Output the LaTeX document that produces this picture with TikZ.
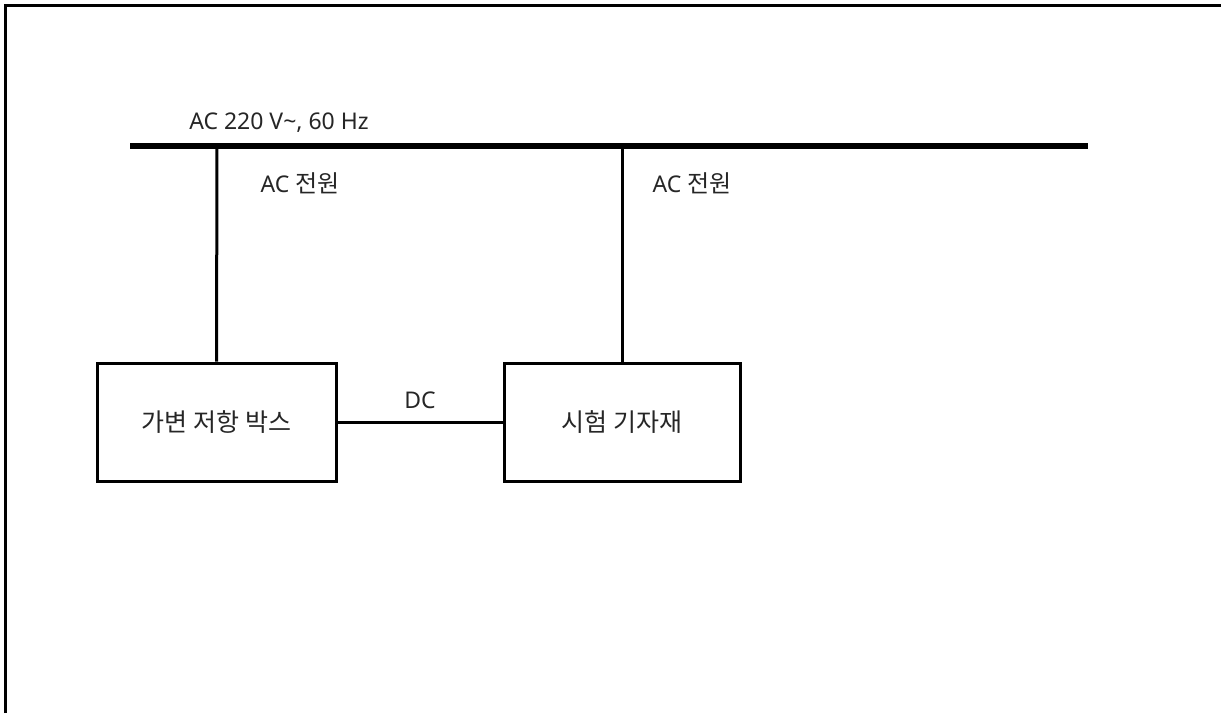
\documentclass[tikz,border=0pt]{standalone}
\usepackage{fontspec}
\setmainfont{Noto Sans}
\newfontfamily\kr{Noto Sans CJK KR}
\begin{document}
\begin{tikzpicture}[x=1pt,y=-1pt,
  box/.style={draw,line width=3pt,minimum width=239pt,minimum height=118pt,inner sep=0pt,text=black!85,font=\kr\fontsize{25}{29}\selectfont},
  lbl/.style={font=\fontsize{23}{27}\selectfont,text=black!85,inner sep=0pt},
  wire/.style={line width=3pt}]
\useasboundingbox (0,0) rectangle (1221,713);
\draw[line width=3pt] (5,713) -- (5,5) -- (1221,5);
\coordinate (busL) at (130,146);
\coordinate (busR) at (1088,146);
\coordinate (tap1) at (217,146);
\coordinate (tap2) at (622,146);
\draw[line width=6.5pt] (busL) -- (busR);
\node[box] (b1) at (216.5,422) {가변 저항 박스};
\node[box,minimum width=236pt] (b2) at (622,422) {시험 기자재};
\draw[wire] (tap1) -- (b1.north);
\draw[wire] (tap2) -- (b2.north);
\draw[wire] (b1.east) -- (b2.west);
\node[lbl] (bus) at (279,123) {AC 220 V\textasciitilde, 60 Hz};
\node[lbl] (ac1) at (300,183) {AC {\kr\fontsize{24}{28}\selectfont 전원}};
\node[lbl] (ac2) at (692,183) {AC {\kr\fontsize{24}{28}\selectfont 전원}};
\node[lbl] (dc) at (420,400) {DC};
\end{tikzpicture}
\end{document}
